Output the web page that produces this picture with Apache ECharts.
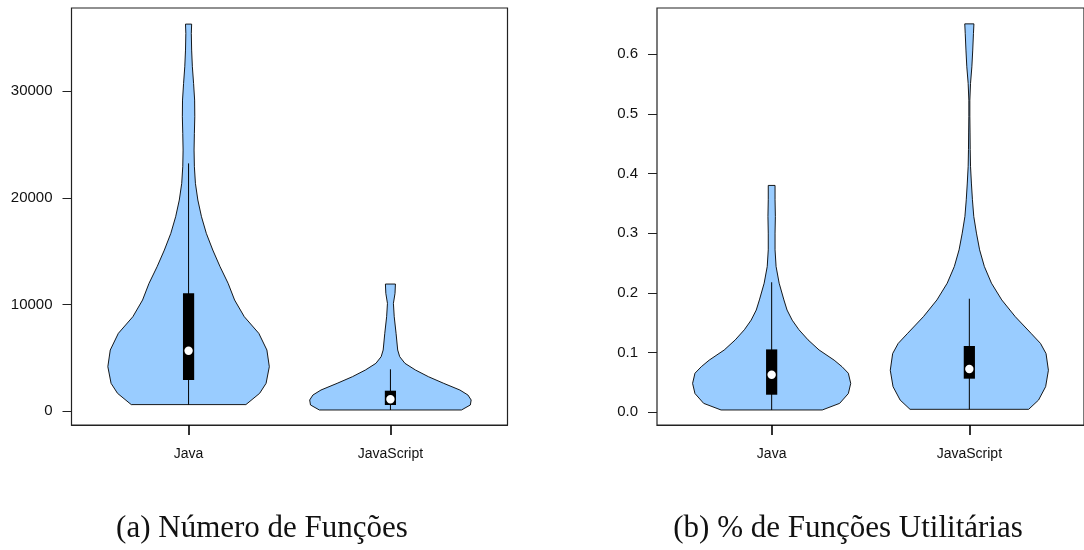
<!DOCTYPE html>
<html><head><meta charset="utf-8">
<script src="https://cdn.jsdelivr.net/npm/echarts@6/dist/echarts.min.js"></script>
<style>html,body{margin:0;padding:0;background:#fff}#c{width:1084px;height:550px}</style>
</head><body><div id="c"></div>
<script>
// ---------- categories & tick labels ----------
const categories = ['Java', 'JavaScript'];
const xTicks = [1, 2];
const aYTicks = [0, 10000, 20000, 30000];
const bYTicks = [0, 0.1, 0.2, 0.3, 0.4, 0.5, 0.6];
const captions = ['(a) Número de Funções', '(b) % de Funções Utilitárias'];

// ---------- panel (a): Número de Funções — violin outlines (value, relative half-width) ----------
const aJavaY = [600, 1657, 2595, 4159, 5722, 7286, 8849, 10413, 11976, 13540, 15103, 16667, 18230, 19794, 21357, 22921, 24484, 26048, 27611, 29175, 30738, 32302, 33865, 35429, 36305];
const aJavaW = [0.71, 0.88, 0.96, 1.0, 0.97, 0.87, 0.69, 0.57, 0.49, 0.39, 0.30, 0.22, 0.16, 0.115, 0.085, 0.072, 0.068, 0.072, 0.077, 0.075, 0.062, 0.047, 0.038, 0.034, 0.038];
const aJsY = [94, 563, 1032, 1501, 1970, 2595, 3221, 3846, 4472, 5097, 5722, 7286, 8849, 10100, 11038, 11914];
const aJsW = [0.88, 0.99, 1.0, 0.96, 0.86, 0.66, 0.47, 0.31, 0.18, 0.115, 0.09, 0.07, 0.047, 0.037, 0.057, 0.062];
// box statistics [Java, JavaScript]
const aMin = [600, 94];
const aQ1 = [2908, 563];
const aMed = [5657, 1098];
const aQ3 = [11041, 1904];
const aMax = [23236, 3912];

// ---------- panel (b): % de Funções Utilitárias ----------
const bJavaY = [0.0034, 0.0145, 0.031, 0.048, 0.065, 0.076, 0.087, 0.104, 0.121, 0.138, 0.154, 0.171, 0.188, 0.216, 0.244, 0.272, 0.30, 0.328, 0.356, 0.38];
const bJavaW = [0.64, 0.86, 0.97, 1.0, 0.97, 0.89, 0.79, 0.60, 0.46, 0.345, 0.26, 0.195, 0.155, 0.095, 0.056, 0.043, 0.043, 0.047, 0.043, 0.043];
const bJsY = [0.0045, 0.020, 0.0425, 0.070, 0.098, 0.115, 0.132, 0.160, 0.188, 0.216, 0.244, 0.272, 0.30, 0.328, 0.356, 0.384, 0.412, 0.44, 0.468, 0.496, 0.523, 0.551, 0.579, 0.607, 0.635, 0.651];
const bJsW = [0.75, 0.875, 0.965, 1.0, 0.97, 0.90, 0.78, 0.58, 0.41, 0.28, 0.19, 0.13, 0.09, 0.056, 0.039, 0.026, 0.015, 0.011, 0.009, 0.0065, 0.0065, 0.015, 0.032, 0.043, 0.052, 0.058];
const bMin = [0.0034, 0.0045];
const bQ1 = [0.029, 0.0559];
const bMed = [0.0626, 0.0721];
const bQ3 = [0.105, 0.1107];
const bMax = [0.2176, 0.190];

// ---------- drawing ----------
const FILL = '#99CCFF';
const HALF = 0.4; // max half-width of a violin in category units
const AXC = '#222';
const FONT = '"Liberation Sans", Arial, sans-serif';
const Y_RANGE = [[-1314, 37816], [-0.0218, 0.6776]];

function violinSeries(idx, shapes) {
  return {
    type: 'custom', xAxisIndex: idx, yAxisIndex: idx, clip: false,
    data: [[1], [2]],
    renderItem: function (params, api) {
      const s = shapes[params.dataIndex];
      const cx = api.value(0);
      const right = [], left = [];
      for (let i = 0; i < s.y.length; i++) {
        right.push(api.coord([cx + s.w[i] * HALF, s.y[i]]));
        left.push(api.coord([cx - s.w[i] * HALF, s.y[i]]));
      }
      return {
        type: 'polygon', shape: { points: right.concat(left.reverse()) },
        style: { fill: FILL, stroke: '#000', lineWidth: 0.9 }
      };
    }
  };
}
// box, whisker, median dot
function boxSeries(idx, mn, q1, md, q3, mx) {
  return {
    type: 'custom', xAxisIndex: idx, yAxisIndex: idx, clip: false, z: 5,
    data: [[xTicks[0], mn[0], q1[0], md[0], q3[0], mx[0]], [xTicks[1], mn[1], q1[1], md[1], q3[1], mx[1]]],
    renderItem: function (params, api) {
      const cx = api.value(0);
      const pMin = api.coord([cx, api.value(1)]);
      const pQ1 = api.coord([cx, api.value(2)]);
      const pMed = api.coord([cx, api.value(3)]);
      const pQ3 = api.coord([cx, api.value(4)]);
      const pMax = api.coord([cx, api.value(5)]);
      const hw = 5.6;
      return {
        type: 'group', children: [
          { type: 'line', shape: { x1: pMin[0], y1: pMin[1], x2: pMax[0], y2: pMax[1] }, style: { stroke: '#000', lineWidth: 1 } },
          { type: 'rect', shape: { x: pQ3[0] - hw, y: pQ3[1], width: hw * 2, height: pQ1[1] - pQ3[1] }, style: { fill: '#000' } },
          { type: 'circle', shape: { cx: pMed[0], cy: pMed[1], r: 4.2 }, style: { fill: '#fff' } }
        ]
      };
    }
  };
}
function xAxis(idx) {
  return {
    type: 'value', gridIndex: idx, min: 0.42, max: 2.58,
    axisLine: { show: true, onZero: false, lineStyle: { color: AXC, width: 1.2 } }, splitLine: { show: false },
    axisTick: { show: true, inside: false, customValues: xTicks, length: 10, lineStyle: { color: '#000', width: 1.6 } },
    axisLabel: { customValues: xTicks, formatter: v => categories[Math.round(v) - 1], margin: 22, fontSize: 14, color: '#111', fontFamily: FONT }
  };
}
function yAxis(idx, ticks, fmt) {
  return {
    type: 'value', gridIndex: idx, min: Y_RANGE[idx][0], max: Y_RANGE[idx][1],
    axisLine: { show: false, onZero: false }, splitLine: { show: false },
    axisTick: { show: true, customValues: ticks, length: 9, lineStyle: { color: AXC, width: 1 } },
    axisLabel: { customValues: ticks, formatter: fmt, margin: 19, fontSize: 15, color: '#111', fontFamily: FONT }
  };
}

const chart = echarts.init(document.getElementById('c'), null, { renderer: 'canvas' });
chart.setOption({
  backgroundColor: '#fff',
  animation: false,
  grid: [
    { left: 71.5, top: 8, width: 436, height: 417, show: true, borderColor: AXC, borderWidth: 1.2, backgroundColor: 'transparent' },
    { left: 657, top: 8, width: 436, height: 417, show: true, borderColor: AXC, borderWidth: 1.2, backgroundColor: 'transparent' }
  ],
  xAxis: [xAxis(0), xAxis(1)],
  yAxis: [
    yAxis(0, aYTicks, v => String(v)),
    yAxis(1, bYTicks, v => v.toFixed(1))
  ],
  series: [
    violinSeries(0, [{ y: aJavaY, w: aJavaW }, { y: aJsY, w: aJsW }]),
    boxSeries(0, aMin, aQ1, aMed, aQ3, aMax),
    violinSeries(1, [{ y: bJavaY, w: bJavaW }, { y: bJsY, w: bJsW }]),
    boxSeries(1, bMin, bQ1, bMed, bQ3, bMax)
  ],
  graphic: [
    { type: 'text', x: 262, y: 529, style: { text: captions[0], fontSize: 31, fontFamily: '"Liberation Serif", serif', fill: '#111', align: 'center', verticalAlign: 'middle' } },
    { type: 'text', x: 848, y: 529, style: { text: captions[1], fontSize: 31, fontFamily: '"Liberation Serif", serif', fill: '#111', align: 'center', verticalAlign: 'middle' } }
  ]
});
</script></body></html>
